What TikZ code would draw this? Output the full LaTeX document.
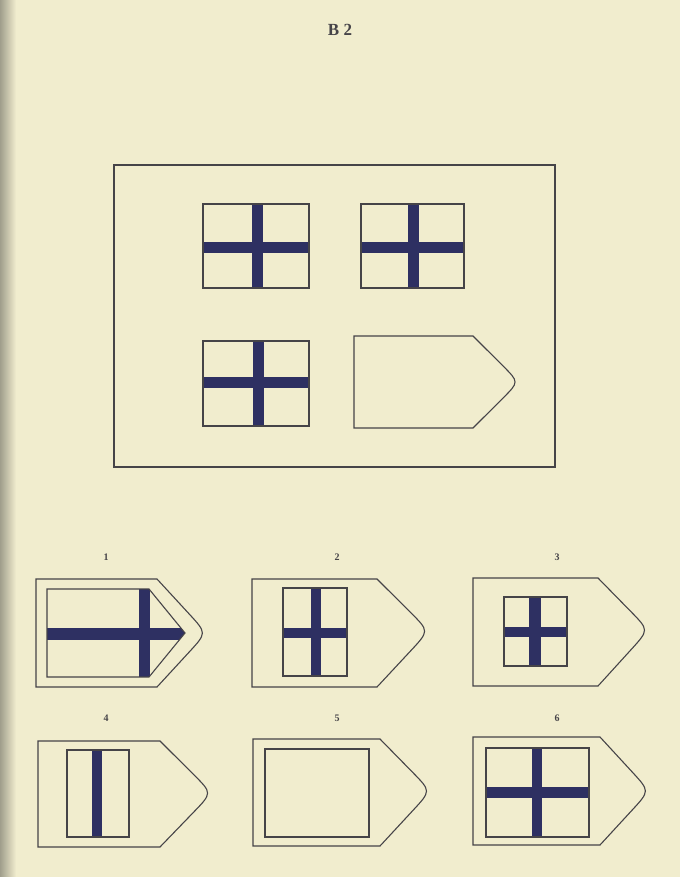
\documentclass[tikz,border=0pt]{standalone}
\usepackage{fontspec}
\setmainfont{Liberation Serif}
\usetikzlibrary{calc}
\definecolor{paper}{RGB}{241,237,206}
\definecolor{shadow}{RGB}{160,158,140}
\definecolor{ink}{RGB}{70,68,72}
\definecolor{bar}{RGB}{46,48,98}
\tikzset{
  frameline/.style={draw=ink, line width=1.4pt},
  outline/.style={draw=ink, line width=1.1pt},
  barfill/.style={fill=bar},
  lbl/.style={font=\bfseries\fontsize{10}{10}\selectfont, text=ink},
  ttl/.style={font=\bfseries\fontsize{17}{17}\selectfont, text=ink}
}
% L T B S tip M style  (tip = measured rightmost x of rounded point)
\newcommand\tagshape[7]{%
  \pgfmathsetmacro\tagcx{(#5-0.175*#4)/0.825}%
  \draw[#7] (#1,#2) -- (#4,#2) -- ($(#4,#2)!0.65!(\tagcx,#6)$) .. controls (\tagcx,#6) .. ($(#4,#3)!0.65!(\tagcx,#6)$) -- (#4,#3) -- (#1,#3) -- cycle;}
\begin{document}
\begin{tikzpicture}[x=1pt,y=-1pt]
\useasboundingbox (0,0) rectangle (680,877);
\fill[paper] (0,0) rectangle (680,877);
\shade[left color=shadow, right color=paper] (0,0) rectangle (16,877);

\node[ttl] (title) at (340,30) {B 2};

% main frame
\draw[frameline] (114,165) rectangle (555,467);

% flags in the matrix
\foreach \x/\y/\w/\h/\vx/\hy in {203/204/106/84/257.5/247.5, 361/204/103/84/413/247.5, 203/341/106/85/258/382.5}{
  \fill[barfill] (\vx-5.5,\y) rectangle (\vx+5.5,\y+\h);
  \fill[barfill] (\x,\hy-5.5) rectangle (\x+\w,\hy+5.5);
  \draw[outline] (\x,\y) rectangle (\x+\w,\y+\h);
}
% empty tag in matrix
\tagshape{354}{336}{428}{473}{511}{382}{outline}

% labels
\node[lbl] (l1) at (106,557) {1};
\node[lbl] (l2) at (337,557) {2};
\node[lbl] (l3) at (557,557) {3};
\node[lbl] (l4) at (106,718) {4};
\node[lbl] (l5) at (337,718) {5};
\node[lbl] (l6) at (557,718) {6};

% option 1
\tagshape{36}{579}{687}{157}{198}{633}{outline}
\begin{scope}
  \clip (47,589) -- (149,589) -- (185,633) -- (149,677) -- (47,677) -- cycle;
  \fill[barfill] (139,589) rectangle (150,677);
  \fill[barfill] (47,628) rectangle (190,640);
\end{scope}
\draw[outline] (47,589) -- (149,589) -- (185,633) -- (149,677) -- (47,677) -- cycle;

% option 2
\tagshape{252}{579}{687}{377}{420}{631}{outline}
\fill[barfill] (310.5,588) rectangle (320.5,676);
\fill[barfill] (283,628) rectangle (347,638);
\draw[outline] (283,588) rectangle (347,676);

% option 3
\tagshape{473}{578}{686}{598}{640}{630}{outline}
\fill[barfill] (529,597) rectangle (541,666);
\fill[barfill] (504,627) rectangle (567,637);
\draw[outline] (504,597) rectangle (567,666);

% option 4
\tagshape{38}{741}{847}{160}{203}{793}{outline}
\fill[barfill] (92,750) rectangle (102,837);
\draw[outline] (67,750) rectangle (129,837);

% option 5
\tagshape{253}{739}{846}{380}{422}{791}{outline}
\draw[outline] (265,749) rectangle (369,837);

% option 6
\tagshape{473}{737}{845}{600}{641}{791}{outline}
\fill[barfill] (532,748) rectangle (542,837);
\fill[barfill] (486,787) rectangle (589,798);
\draw[outline] (486,748) rectangle (589,837);
\end{tikzpicture}
\end{document}
